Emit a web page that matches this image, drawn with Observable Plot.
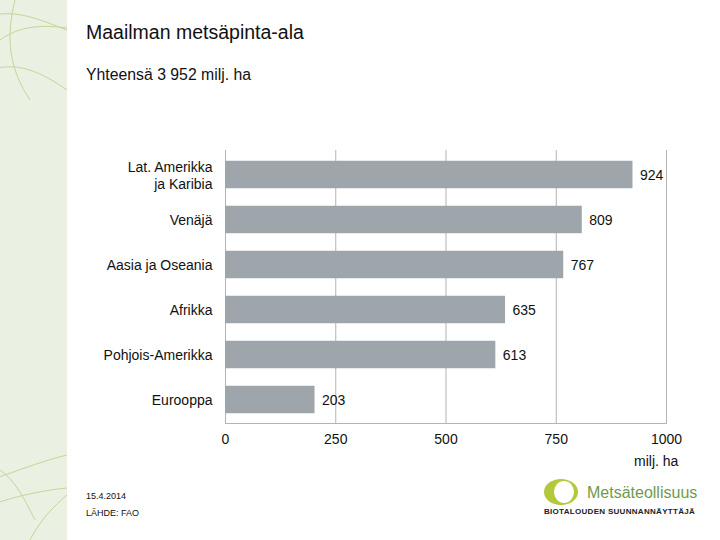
<!DOCTYPE html>
<html>
<head>
<meta charset="utf-8">
<script src="https://cdn.jsdelivr.net/npm/d3@7"></script>
<script src="https://cdn.jsdelivr.net/npm/@observablehq/plot@0.6"></script>
<style>
  html, body { margin: 0; padding: 0; background: #fff; }
  body { width: 720px; height: 540px; position: relative; overflow: hidden; font-family: "Liberation Sans", Arial, sans-serif; color: #111; }
  #side { position: absolute; left: 0; top: 0; width: 67px; height: 540px; background: #eaf0e2; }
  #chart { position: absolute; left: 0; top: 0; }
  .t { position: absolute; white-space: nowrap; }
</style>
</head>
<body>
<div id="side">
  <svg width="67" height="540" style="position:absolute;left:0;top:0">
    <g fill="none" stroke="#c9d39a" stroke-width="1">
      <path d="M-20,20 C10,5 40,20 67,30"/>
      <path d="M0,40 C20,25 45,25 67,28"/>
      <path d="M15,0 C5,40 10,70 30,100"/>
      <path d="M-10,70 C20,60 45,75 67,90"/>
      <path d="M-10,480 C20,470 45,460 67,455"/>
      <path d="M-10,505 C20,495 45,490 67,488"/>
      <path d="M30,540 C40,520 55,505 67,495"/>
      <path d="M0,470 C15,480 25,500 35,520"/>
    </g>
  </svg>
</div>
<div id="chart"></div>
<div class="t" style="left:86px;top:21px;font-size:19.5px;">Maailman metsäpinta-ala</div>
<div class="t" style="left:86px;top:66px;font-size:15.8px;">Yhteensä 3 952 milj. ha</div>
<div class="t" style="left:634px;top:453px;font-size:14px;">milj. ha</div>
<div class="t" style="left:86px;top:491px;font-size:9px;">15.4.2014</div>
<div class="t" style="left:86px;top:508px;font-size:9px;">LÄHDE: FAO</div>
<div style="position:absolute;left:543px;top:478px;width:170px;height:40px;">
  <svg width="40" height="30" style="position:absolute;left:0;top:0">
    <ellipse cx="18" cy="14" rx="17" ry="13" fill="#b3c83a"/>
    <ellipse cx="21" cy="14" rx="10" ry="11" fill="#ffffff"/>
  </svg>
  <div class="t" style="left:44px;top:6px;font-size:16px;color:#6f9a4a;">Metsäteollisuus</div>
  <div class="t" style="left:1px;top:29px;font-size:8px;font-weight:bold;letter-spacing:0.3px;color:#222;">BIOTALOUDEN SUUNNANNÄYTTÄJÄ</div>
</div>
<script>
const regions = ["Lat. Amerikka\nja Karibia", "Venäjä", "Aasia ja Oseania", "Afrikka", "Pohjois-Amerikka", "Eurooppa"];
const values = [924, 809, 767, 635, 613, 203];
const xTicks = [0, 250, 500, 750, 1000];

const data = regions.map((r, i) => ({region: r, value: values[i]}));

const chart = Plot.plot({
  width: 720,
  height: 540,
  marginLeft: 225,
  marginRight: 54,
  marginTop: 150,
  marginBottom: 117,
  style: {fontFamily: "'Liberation Sans', Arial, sans-serif", fontSize: "14px", color: "#111", background: "transparent"},
  x: {domain: [0, 1000], axis: null},
  y: {domain: regions, padding: 0, axis: null},
  marks: [
    Plot.gridX(xTicks, {stroke: "#b3b3b3", strokeOpacity: 1}),
    Plot.frame({anchor: "bottom", stroke: "#b3b3b3"}),
    Plot.ruleX([0], {stroke: "#b3b3b3"}),
    Plot.barX(data, {x: "value", y: "region", fill: "#9ea6ab", insetTop: 8.75, insetBottom: 8.75}),
    Plot.text(data, {x: "value", y: "region", text: d => String(d.value), textAnchor: "start", dx: 7, dy: 1, fill: "#111"}),
    Plot.axisX(xTicks, {tickSize: 0, tickPadding: 11, fill: "#111", label: null, tickFormat: d => String(d)}),
    Plot.axisY({tickSize: 0, tickPadding: 13, fill: "#111", lineHeight: 1.2, label: null})
  ]
});
document.getElementById("chart").appendChild(chart);
</script>
</body>
</html>
